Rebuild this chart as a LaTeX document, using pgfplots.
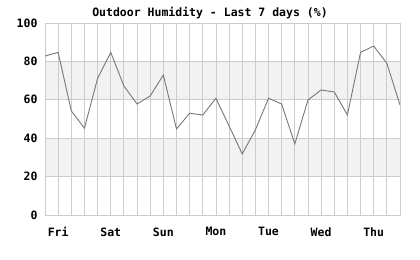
\documentclass[border=0pt]{standalone}
\usepackage{pgfplots}
\pgfplotsset{compat=1.18}
\usepackage{fontspec}
\setmainfont{DejaVu Sans Mono}
\definecolor{gridc}{HTML}{CCCCCC}
\definecolor{bandc}{HTML}{F2F2F2}
\definecolor{linec}{HTML}{777777}
\begin{document}
\begin{tikzpicture}
\path (0,0) rectangle (420bp,260bp);
\node[font=\fontsize{11.5bp}{12bp}\selectfont\bfseries] at (210bp,247bp) {Outdoor Humidity - Last 7 days (\%)};
\begin{axis}[
  set layers,
  at={(45bp,45bp)}, anchor=south west,
  scale only axis, width=355bp, height=192bp,
  xmin=0, xmax=27, ymin=0, ymax=100,
  xtick={1,5,9,13,17,21,25},
  xticklabels={Fri,Sat,Sun,Mon,Tue,Wed,Thu},
  minor xtick={0,...,27},
  ytick={0,20,40,60,80,100},
  xmajorgrids, xminorgrids, ymajorgrids,
  grid style={gridc, line width=0.8bp},
  minor grid style={gridc, line width=0.8bp},
  axis line style={gridc, line width=0.8bp},
  major tick length=0pt, minor tick length=0pt,
  tick style={draw=none},
  ticklabel style={font=\fontsize{11.5bp}{12bp}\selectfont\bfseries},
  /pgf/number format/assume math mode=true,
  xticklabel style={yshift=-9bp},
  yticklabel style={xshift=-4bp},
]
\addplot[on layer=axis background, fill=bandc, draw=none] coordinates {(0,20) (27,20) (27,40) (0,40)} -- cycle;
\addplot[on layer=axis background, fill=bandc, draw=none] coordinates {(0,60) (27,60) (27,80) (0,80)} -- cycle;
\addplot[linec, line width=0.9bp, mark=none] coordinates {
(0,82.8) (1,84.7) (2,54.2) (3,45.2) (4,71.2) (5,84.7) (6,67.2) (7,57.8)
(8,62.0) (9,72.9) (10,44.8) (11,53.0) (12,52.1) (13,60.8) (14,46.4) (15,31.8)
(16,44.3) (17,60.8) (18,57.8) (19,37.0) (20,59.9) (21,65.1) (22,64.1) (23,52.1)
(24,84.7) (25,88.0) (26,79.0) (27,57.3)
};
\end{axis}
\end{tikzpicture}
\end{document}
